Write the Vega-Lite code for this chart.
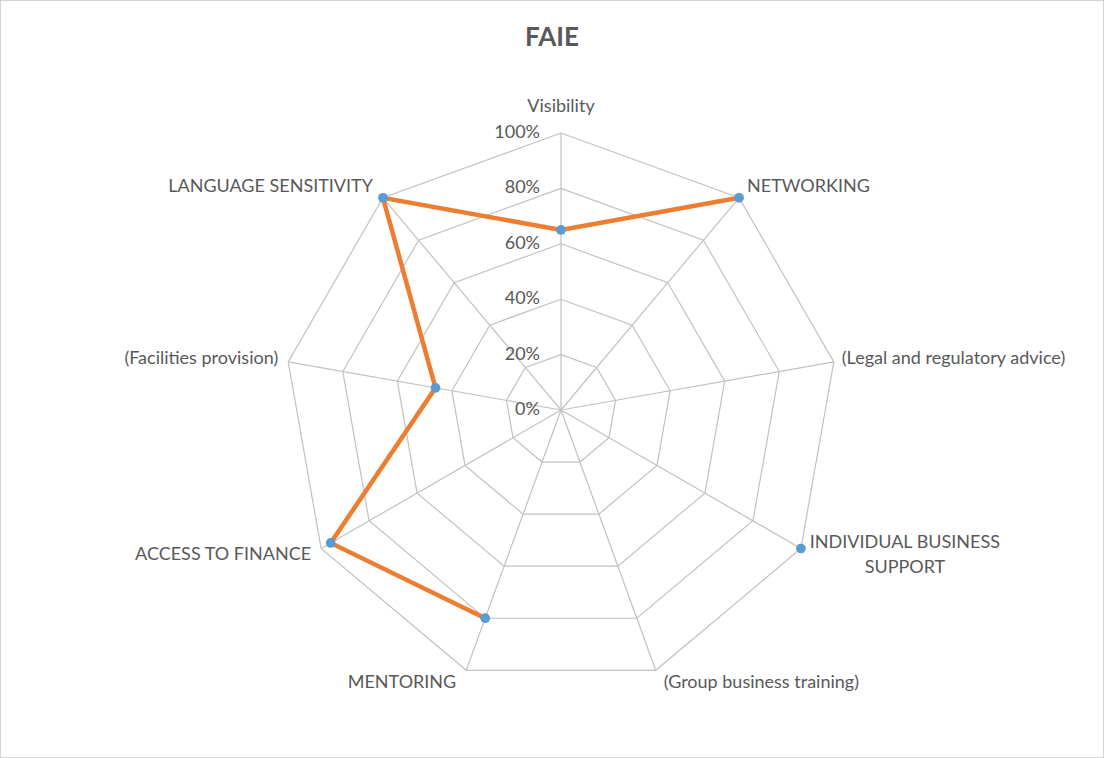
{
  "$schema": "https://vega.github.io/schema/vega-lite/v6.json",
  "width": 1104,
  "height": 758,
  "padding": 0,
  "autosize": {"type": "none"},
  "background": "white",
  "config": {"view": {"stroke": "#c8c8c8", "strokeWidth": 1.5}, "font": "Lato"},
  "title": {"text": "FAIE", "font": "Lato", "fontSize": 26, "fontWeight": "bold", "color": "#595959", "anchor": "middle", "frame": "group", "baseline": "alphabetic", "offset": -47, "dy": 25},
  "datasets": {
    "scores": [
      {"axis": "Visibility", "label": "Visibility", "idx": 0, "value": 0.65},
      {"axis": "NETWORKING", "label": "NETWORKING", "idx": 1, "value": 1.0},
      {"axis": "(Legal and regulatory advice)", "label": "(Legal and regulatory advice)", "idx": 2, "value": null},
      {"axis": "INDIVIDUAL BUSINESS SUPPORT", "label": "INDIVIDUAL BUSINESS\nSUPPORT", "idx": 3, "value": 1.0},
      {"axis": "(Group business training)", "label": "(Group business training)", "idx": 4, "value": null},
      {"axis": "MENTORING", "label": "MENTORING", "idx": 5, "value": 0.8},
      {"axis": "ACCESS TO FINANCE", "label": "ACCESS TO FINANCE", "idx": 6, "value": 0.96},
      {"axis": "(Facilities provision)", "label": "(Facilities provision)", "idx": 7, "value": 0.46},
      {"axis": "LANGUAGE SENSITIVITY", "label": "LANGUAGE SENSITIVITY", "idx": 8, "value": 1.0}
    ],
    "rings": [
      {"level": 0.2, "k": [0, 1, 2, 3, 4, 5, 6, 7, 8, 9]},
      {"level": 0.4, "k": [0, 1, 2, 3, 4, 5, 6, 7, 8, 9]},
      {"level": 0.6, "k": [0, 1, 2, 3, 4, 5, 6, 7, 8, 9]},
      {"level": 0.8, "k": [0, 1, 2, 3, 4, 5, 6, 7, 8, 9]},
      {"level": 1.0, "k": [0, 1, 2, 3, 4, 5, 6, 7, 8, 9]}
    ],
    "ticks": [
      {"level": 0}, {"level": 0.2}, {"level": 0.4}, {"level": 0.6}, {"level": 0.8}, {"level": 1.0}
    ]
  },
  "layer": [
    {
      "data": {"name": "scores"},
      "transform": [
        {"calculate": "datum.idx * 2 * PI / 9", "as": "a"},
        {"calculate": "0", "as": "ox"},
        {"calculate": "0", "as": "oy"},
        {"calculate": "100 * sin(datum.a)", "as": "vx"},
        {"calculate": "100 * cos(datum.a)", "as": "vy"}
      ],
      "mark": {"type": "rule", "stroke": "#c2c2c2", "strokeWidth": 1.2},
      "encoding": {
        "x": {"field": "ox", "type": "quantitative", "scale": {"domain": [-202.527, 196.029], "nice": false, "zero": false}, "axis": null},
        "y": {"field": "oy", "type": "quantitative", "scale": {"domain": [-125.632, 148.014], "nice": false, "zero": false}, "axis": null},
        "x2": {"field": "vx"},
        "y2": {"field": "vy"}
      }
    },
    {
      "data": {"name": "rings"},
      "transform": [
        {"flatten": ["k"]},
        {"calculate": "datum.k * 2 * PI / 9", "as": "a"},
        {"calculate": "100 * datum.level * sin(datum.a)", "as": "gx"},
        {"calculate": "100 * datum.level * cos(datum.a)", "as": "gy"}
      ],
      "mark": {"type": "line", "stroke": "#c2c2c2", "strokeWidth": 1.2},
      "encoding": {
        "x": {"field": "gx", "type": "quantitative"},
        "y": {"field": "gy", "type": "quantitative"},
        "detail": {"field": "level", "type": "nominal"},
        "order": {"field": "k", "type": "quantitative"}
      }
    },
    {
      "data": {"name": "scores"},
      "transform": [
        {"calculate": "datum.idx * 2 * PI / 9", "as": "a"},
        {"calculate": "datum.value == null ? null : 100 * datum.value * sin(datum.a)", "as": "px"},
        {"calculate": "datum.value == null ? null : 100 * datum.value * cos(datum.a)", "as": "py"},
        {"calculate": "(datum.idx + 5) % 9", "as": "lo"}
      ],
      "mark": {"type": "line", "stroke": "#ED7D31", "strokeWidth": 4.5},
      "encoding": {
        "x": {"field": "px", "type": "quantitative"},
        "y": {"field": "py", "type": "quantitative"},
        "order": {"field": "lo", "type": "quantitative"}
      }
    },
    {
      "data": {"name": "scores"},
      "transform": [
        {"filter": "datum.value != null"},
        {"calculate": "datum.idx * 2 * PI / 9", "as": "a"},
        {"calculate": "100 * datum.value * sin(datum.a)", "as": "px"},
        {"calculate": "100 * datum.value * cos(datum.a)", "as": "py"}
      ],
      "mark": {"type": "circle", "fill": "#5B9BD5", "opacity": 1, "size": 95},
      "encoding": {
        "x": {"field": "px", "type": "quantitative"},
        "y": {"field": "py", "type": "quantitative"}
      }
    },
    {
      "data": {"name": "ticks"},
      "transform": [
        {"calculate": "datum.level * 100", "as": "ty"},
        {"calculate": "0", "as": "tx"}
      ],
      "mark": {"type": "text", "align": "right", "baseline": "middle", "dx": -21, "fontSize": 18, "fill": "#595959"},
      "encoding": {
        "x": {"field": "tx", "type": "quantitative"},
        "y": {"field": "ty", "type": "quantitative"},
        "text": {"field": "level", "type": "quantitative", "format": ".0%"}
      }
    },
    {
      "data": {"name": "scores"},
      "transform": [
        {"filter": "datum.idx == 1 || datum.idx == 2 || datum.idx == 4"},
        {"calculate": "datum.idx * 2 * PI / 9", "as": "a"},
        {"calculate": "100 * sin(datum.a)", "as": "vx"},
        {"calculate": "100 * cos(datum.a) + 5 * cos(datum.a)", "as": "ly"}
      ],
      "mark": {"type": "text", "align": "left", "baseline": "middle", "dx": 8, "fontSize": 18, "fill": "#595959"},
      "encoding": {
        "x": {"field": "vx", "type": "quantitative"},
        "y": {"field": "ly", "type": "quantitative"},
        "text": {"field": "label", "type": "nominal"}
      }
    },
    {
      "data": {"name": "scores"},
      "transform": [
        {"filter": "datum.idx >= 5"},
        {"calculate": "datum.idx * 2 * PI / 9", "as": "a"},
        {"calculate": "100 * sin(datum.a)", "as": "vx"},
        {"calculate": "100 * cos(datum.a) + 5 * cos(datum.a)", "as": "ly"}
      ],
      "mark": {"type": "text", "align": "right", "baseline": "middle", "dx": -10, "fontSize": 18, "fill": "#595959"},
      "encoding": {
        "x": {"field": "vx", "type": "quantitative"},
        "y": {"field": "ly", "type": "quantitative"},
        "text": {"field": "label", "type": "nominal"}
      }
    },
    {
      "data": {"name": "scores"},
      "transform": [
        {"filter": "datum.idx == 0"},
        {"calculate": "0", "as": "vx"},
        {"calculate": "100", "as": "vy"}
      ],
      "mark": {"type": "text", "align": "center", "baseline": "middle", "dy": -26, "fontSize": 18, "fill": "#595959"},
      "encoding": {
        "x": {"field": "vx", "type": "quantitative"},
        "y": {"field": "vy", "type": "quantitative"},
        "text": {"field": "label", "type": "nominal"}
      }
    },
    {
      "data": {"name": "scores"},
      "transform": [
        {"filter": "datum.idx == 3"},
        {"calculate": "datum.idx * 2 * PI / 9", "as": "a"},
        {"calculate": "100 * sin(datum.a)", "as": "vx"},
        {"calculate": "100 * cos(datum.a)", "as": "vy"}
      ],
      "mark": {"type": "text", "align": "center", "baseline": "middle", "dx": 104, "dy": -5, "lineBreak": "\n", "lineHeight": 25, "fontSize": 18, "fill": "#595959"},
      "encoding": {
        "x": {"field": "vx", "type": "quantitative"},
        "y": {"field": "vy", "type": "quantitative"},
        "text": {"field": "label", "type": "nominal"}
      }
    }
  ]
}
